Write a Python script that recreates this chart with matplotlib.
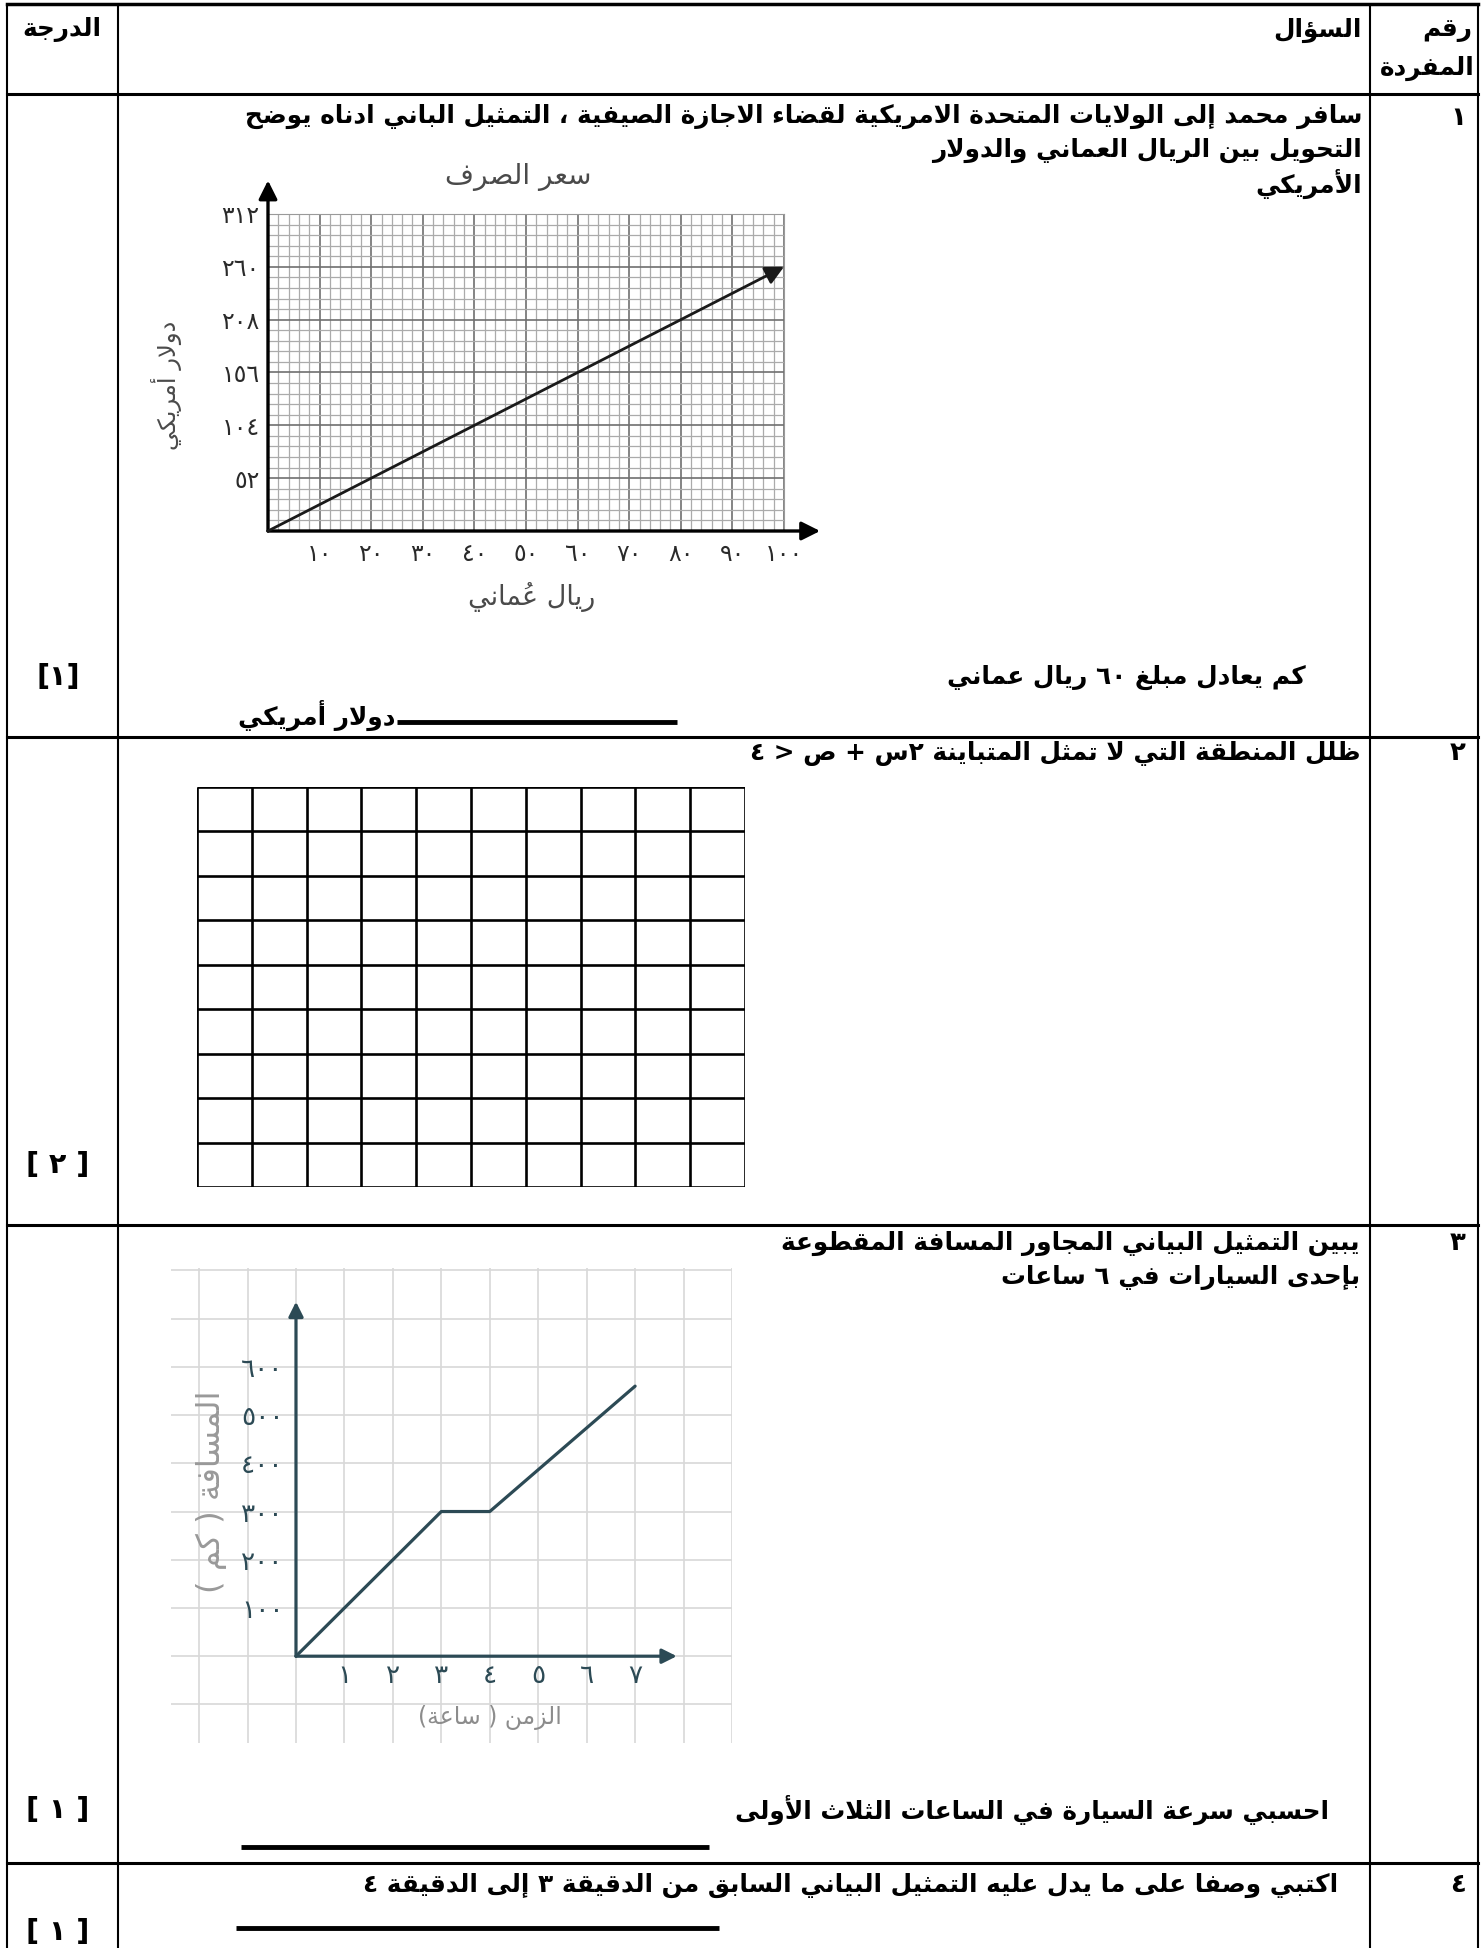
import numpy as np
import matplotlib.pyplot as plt

plt.rcParams['font.family'] = ['DejaVu Sans']

# ---------------- data ----------------
riyal = [0, 100]
dollar = [0, 260]
riyal_ticks = [10, 20, 30, 40, 50, 60, 70, 80, 90, 100]
dollar_ticks = [52, 104, 156, 208, 260, 312]

hours = [0, 3, 4, 7]
distance = [0, 300, 300, 560]
hour_ticks = [1, 2, 3, 4, 5, 6, 7]
distance_ticks = [100, 200, 300, 400, 500, 600]

grid_cols = 10
grid_rows = 9

row_numbers = ['١', '٢', '٣', '٤']
scores = ['[١]', '[ ٢ ]', '[ ١ ]', '[ ١ ]']

# ---------------- arabic shaping (matplotlib has no shaper) ----------------
FORMS = {
    'ء': ('\uFE80', None, None, None),
    'آ': ('\uFE81', '\uFE82', None, None),
    'أ': ('\uFE83', '\uFE84', None, None),
    'ؤ': ('\uFE85', '\uFE86', None, None),
    'إ': ('\uFE87', '\uFE88', None, None),
    'ئ': ('\uFE89', '\uFE8A', '\uFE8B', '\uFE8C'),
    'ا': ('\uFE8D', '\uFE8E', None, None),
    'ب': ('\uFE8F', '\uFE90', '\uFE91', '\uFE92'),
    'ة': ('\uFE93', '\uFE94', None, None),
    'ت': ('\uFE95', '\uFE96', '\uFE97', '\uFE98'),
    'ث': ('\uFE99', '\uFE9A', '\uFE9B', '\uFE9C'),
    'ج': ('\uFE9D', '\uFE9E', '\uFE9F', '\uFEA0'),
    'ح': ('\uFEA1', '\uFEA2', '\uFEA3', '\uFEA4'),
    'خ': ('\uFEA5', '\uFEA6', '\uFEA7', '\uFEA8'),
    'د': ('\uFEA9', '\uFEAA', None, None),
    'ذ': ('\uFEAB', '\uFEAC', None, None),
    'ر': ('\uFEAD', '\uFEAE', None, None),
    'ز': ('\uFEAF', '\uFEB0', None, None),
    'س': ('\uFEB1', '\uFEB2', '\uFEB3', '\uFEB4'),
    'ش': ('\uFEB5', '\uFEB6', '\uFEB7', '\uFEB8'),
    'ص': ('\uFEB9', '\uFEBA', '\uFEBB', '\uFEBC'),
    'ض': ('\uFEBD', '\uFEBE', '\uFEBF', '\uFEC0'),
    'ط': ('\uFEC1', '\uFEC2', '\uFEC3', '\uFEC4'),
    'ظ': ('\uFEC5', '\uFEC6', '\uFEC7', '\uFEC8'),
    'ع': ('\uFEC9', '\uFECA', '\uFECB', '\uFECC'),
    'غ': ('\uFECD', '\uFECE', '\uFECF', '\uFED0'),
    'ـ': ('ـ', 'ـ', 'ـ', 'ـ'),
    'ف': ('\uFED1', '\uFED2', '\uFED3', '\uFED4'),
    'ق': ('\uFED5', '\uFED6', '\uFED7', '\uFED8'),
    'ك': ('\uFED9', '\uFEDA', '\uFEDB', '\uFEDC'),
    'ل': ('\uFEDD', '\uFEDE', '\uFEDF', '\uFEE0'),
    'م': ('\uFEE1', '\uFEE2', '\uFEE3', '\uFEE4'),
    'ن': ('\uFEE5', '\uFEE6', '\uFEE7', '\uFEE8'),
    'ه': ('\uFEE9', '\uFEEA', '\uFEEB', '\uFEEC'),
    'و': ('\uFEED', '\uFEEE', None, None),
    'ى': ('\uFEEF', '\uFEF0', None, None),
    'ي': ('\uFEF1', '\uFEF2', '\uFEF3', '\uFEF4'),
}
LAM_ALEF = {'آ': ('\uFEF5', '\uFEF6'), 'أ': ('\uFEF7', '\uFEF8'),
            'إ': ('\uFEF9', '\uFEFA'), 'ا': ('\uFEFB', '\uFEFC')}
MIRROR = {'(': ')', ')': '(', '[': ']', ']': '[', '<': '>', '>': '<'}


def is_mark(c):
    return '\u064B' <= c <= '\u0652' or c == '\u0670'


def joins_next(b):
    if b.startswith('LA'):
        return False
    f = FORMS.get(b)
    return f is not None and f[2] is not None


def joins_prev(b):
    if b.startswith('LA'):
        return True
    f = FORMS.get(b)
    return f is not None and f[1] is not None


def shape(text):
    units = []
    for c in text:
        if is_mark(c) and units:
            units[-1][1] += c
        else:
            units.append([c, ''])
    merged = []
    i = 0
    while i < len(units):
        b, m = units[i]
        if b == 'ل' and i + 1 < len(units) and units[i + 1][0] in LAM_ALEF:
            merged.append(['LA' + units[i + 1][0], m + units[i + 1][1]])
            i += 2
        else:
            merged.append([b, m])
            i += 1
    out = []
    for i, (b, m) in enumerate(merged):
        prev = merged[i - 1][0] if i > 0 else None
        nxt = merged[i + 1][0] if i + 1 < len(merged) else None
        jp = prev is not None and joins_next(prev) and joins_prev(b)
        jn = nxt is not None and joins_next(b) and joins_prev(nxt)
        if b.startswith('LA'):
            g = LAM_ALEF[b[2]][1 if jp else 0]
        elif b in FORMS:
            iso, fin, ini, med = FORMS[b]
            g = med if (jp and jn) else fin if jp else ini if jn else iso
        else:
            g = b
        out.append(m + g)
    # right-to-left display, digit runs stay left-to-right
    runs = []
    for u in out:
        d = u[-1].isdigit()
        if runs and d and runs[-1][0]:
            runs[-1][1].append(u)
        else:
            runs.append([d, [u]])
    vis = []
    for d, us in reversed(runs):
        if d:
            vis.extend(us)
        else:
            vis.extend(MIRROR.get(u, u) for u in reversed(us))
    return ''.join(vis)


def to_ar(n):
    return ''.join('٠١٢٣٤٥٦٧٨٩'[int(c)] for c in str(n))


# ---------------- figure ----------------
W, H = 1483, 1948
fig = plt.figure(figsize=(W / 100, H / 100), dpi=100)
base = fig.add_axes([0, 0, 1, 1])
base.set_xlim(0, W)
base.set_ylim(H, 0)
base.axis('off')


def px_axes(x0, y0, x1, y1):
    return fig.add_axes([x0 / W, 1 - y1 / H, (x1 - x0) / W, (y1 - y0) / H])


def fit(t, target):
    r = fig.canvas.get_renderer()
    bb = t.get_window_extent(r)
    t.set_fontsize(t.get_fontsize() * target / max(bb.width, bb.height))
    return t.get_fontsize()


# table frame
for x in [7, 118, 1370, 1478]:
    base.plot([x, x], [4, H], color='black', lw=1.5, solid_capstyle='butt')
base.plot([7, 1478], [4, 4], color='black', lw=2.5)
for y in [94, 737, 1225, 1863]:
    base.plot([7, 1478], [y, y], color='black', lw=2.2)

QFONT = dict(fontweight='bold')

# question text size: fit the first line of question 1
probe = base.text(0, 0, shape('سافر محمد إلى الولايات المتحدة الامريكية لقضاء الاجازة الصيفية ، التمثيل الباني ادناه يوضح'),
                  fontsize=18, **QFONT)
qs = fit(probe, 1121)
probe.remove()


def qtext(x, y, s, ha='right', **kw):
    return base.text(x, y, shape(s), fontsize=qs, ha=ha, va='center', color='black', **QFONT, **kw)


# header
qtext(1472, 30, 'رقم')
qtext(1475, 68, 'المفردة')
qtext(1362, 30, 'السؤال')
qtext(62, 30, 'الدرجة', ha='center')

# row numbers and scores
for s, y in zip(row_numbers, [118, 753, 1243, 1885]):
    base.text(1458, y, s, fontsize=qs * 1.05, ha='center', va='center', **QFONT)
for s, y in zip(scores, [677, 1165, 1810, 1932]):
    base.text(58, y, s, fontsize=qs * 1.15, ha='center', va='center', **QFONT)

# question 1
qtext(1362, 116, 'سافر محمد إلى الولايات المتحدة الامريكية لقضاء الاجازة الصيفية ، التمثيل الباني ادناه يوضح')
qtext(1362, 150, 'التحويل بين الريال العماني والدولار')
qtext(1362, 184, 'الأمريكي')
qtext(1306, 677, 'كم يعادل مبلغ ٦٠ ريال عماني')
qtext(395, 715, 'دولار أمريكي')
base.plot([397, 677], [722, 722], color='black', lw=3.5, solid_capstyle='butt')

# chart 1: exchange rate
ax1 = px_axes(268, 214, 784, 531)
ax1.set_xlim(0, 100)
ax1.set_ylim(0, 312)
ax1.set_xticks(riyal_ticks, labels=[to_ar(v) for v in riyal_ticks])
ax1.set_yticks(dollar_ticks, labels=[to_ar(v) for v in dollar_ticks])
ax1.set_xticks(np.arange(0, 101, 2), minor=True)
ax1.set_yticks(np.arange(0, 313, 10.4), minor=True)
ax1.grid(which='minor', color='#ababab', lw=0.9)
ax1.grid(which='major', color='#707070', lw=1.2)
ax1.tick_params(which='both', length=0)
ax1.tick_params(axis='x', pad=8, labelsize=17, labelcolor='#2a2a2a')
ax1.tick_params(axis='y', pad=6, labelsize=17, labelcolor='#2a2a2a')
for sp in ax1.spines.values():
    sp.set_visible(False)
ax1.spines['top'].set_visible(True)
ax1.spines['top'].set_color('#9a9a9a')
ax1.spines['right'].set_visible(True)
ax1.spines['right'].set_color('#9a9a9a')
arrow = dict(arrowstyle='-|>', color='black', lw=2.4, mutation_scale=28, shrinkA=0, shrinkB=0)
ax1.annotate('', xy=(107, 0), xytext=(0, 0), arrowprops=arrow, annotation_clip=False)
ax1.annotate('', xy=(0, 345), xytext=(0, 0), arrowprops=arrow, annotation_clip=False)
ax1.annotate('', xy=(riyal[1], dollar[1]), xytext=(riyal[0], dollar[0]),
             arrowprops=dict(arrowstyle='-|>', color='#1a1a1a', lw=2.0, mutation_scale=28,
                             shrinkA=0, shrinkB=0), annotation_clip=False)
t = base.text(518, 177, shape('سعر الصرف'), fontsize=16, color='#4a4a4a', ha='center', va='center')
fit(t, 147)
t = base.text(166, 385, shape('دولار أمريكي'), fontsize=16, color='#4a4a4a', ha='center',
              va='center', rotation=90)
fit(t, 130)
t = base.text(532, 597, shape('ريال عُماني'), fontsize=16, color='#4a4a4a', ha='center', va='center')
fit(t, 127)

# question 2
qtext(1360, 753, 'ظلل المنطقة التي لا تمثل المتباينة ٢س + ص < ٤')
ax2 = px_axes(197, 787, 745, 1187)
ax2.set_xlim(0, grid_cols)
ax2.set_ylim(0, grid_rows)
ax2.vlines(range(grid_cols + 1), 0, grid_rows, color='black', lw=1.9)
ax2.hlines(range(grid_rows + 1), 0, grid_cols, color='black', lw=1.9)
ax2.axis('off')

# question 3
qtext(1360, 1243, 'يبين التمثيل البياني المجاور المسافة المقطوعة')
qtext(1360, 1277, 'بإحدى السيارات في ٦ ساعات')

ink = '#2c4a55'
ax3 = px_axes(171, 1268, 732, 1743)
ax3.set_xlim(-2.58, 9.0)
ax3.set_ylim(-180, 805)
xt = list(range(-2, 10))
yt = list(range(-100, 801, 100))
ax3.set_xticks(xt, labels=[to_ar(v) if v in hour_ticks else '' for v in xt])
ax3.set_yticks(yt, labels=[to_ar(v) if v in distance_ticks else '' for v in yt])
ax3.grid(color='#d8d8d8', lw=1.2)
ax3.spines['bottom'].set_position(('data', 0))
ax3.spines['left'].set_position(('data', 0))
for sp in ax3.spines.values():
    sp.set_color('none')
ax3.tick_params(length=0, labelcolor=ink, labelsize=19)
ax3.tick_params(axis='x', pad=5)
ax3.tick_params(axis='y', pad=9)
ax3.plot(hours, distance, color=ink, lw=2.3, solid_capstyle='round', solid_joinstyle='round')
arrow3 = dict(arrowstyle='-|>', color=ink, lw=2.3, mutation_scale=22, shrinkA=0, shrinkB=0)
ax3.annotate('', xy=(7.86, 0), xytext=(0, 0), arrowprops=arrow3, annotation_clip=False)
ax3.annotate('', xy=(0, 735), xytext=(0, 0), arrowprops=arrow3, annotation_clip=False)
t = ax3.text(-1.75, 340, shape('المسافة ( كم )'), fontsize=14, color='#999999', ha='center',
             va='center', rotation=90)
fit(t, 204)
t = ax3.text(4.0, -128, shape('الزمن ( ساعة)'), fontsize=14, color='#8c8c8c', ha='center', va='center')
fit(t, 145)

qtext(1329, 1810, 'احسبي سرعة السيارة في الساعات الثلاث الأولى')
base.plot([241, 709], [1847, 1847], color='black', lw=3.5, solid_capstyle='butt')

# question 4
qtext(1338, 1885, 'اكتبي وصفا على ما يدل عليه التمثيل البياني السابق من الدقيقة ٣ إلى الدقيقة ٤')
base.plot([236, 719], [1928, 1928], color='black', lw=3.5, solid_capstyle='butt')

fig.savefig('out.png', dpi=100)
